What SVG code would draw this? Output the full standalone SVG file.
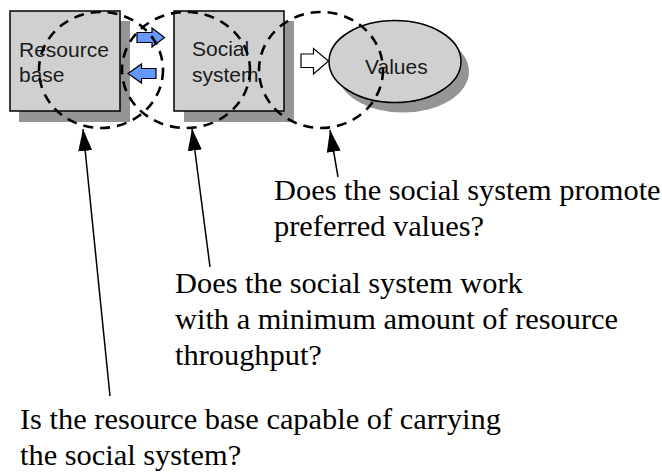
<svg xmlns="http://www.w3.org/2000/svg" width="662" height="473" viewBox="0 0 662 473">
  <style>
    .box { fill: #D0D0D0; stroke: #000; stroke-width: 1.5; }
    .shadow { fill: #959595; stroke: none; }
    .lbl { font-family: "Liberation Sans", Arial, sans-serif; font-size: 21px; fill: #1a1a1a; }
    .q { font-family: "Liberation Serif", "Times New Roman", serif; font-size: 30.4px; fill: #000; }
    .ptr { fill: none; stroke: #000; stroke-width: 1.5; }
    .blue { fill: #6699FF; stroke: #000; stroke-width: 1.2; stroke-linejoin: miter; }
    .white { fill: #fff; stroke: #000; stroke-width: 1.2; }
    .dash { fill: none; stroke: #000; stroke-width: 2.6; stroke-dasharray: 10 7; }
  </style>
  <defs>
    <marker id="head" markerUnits="userSpaceOnUse" markerWidth="22" markerHeight="14" refX="22" refY="7" orient="auto">
      <path d="M0,0 L22,7 L0,14 z" fill="#000"/>
    </marker>
  </defs>
  <rect width="662" height="473" fill="#fff"/>

  <g id="resource-base">
    <rect class="shadow" x="19" y="21" width="111" height="101"/>
    <rect class="box" x="10" y="11" width="110" height="100"/>
    <text class="lbl" x="19" y="57">Resource</text>
    <text class="lbl" x="19" y="82">base</text>
  </g>

  <g id="social-system">
    <rect class="shadow" x="184" y="21" width="110" height="101"/>
    <rect class="box" x="174" y="11" width="110" height="100"/>
    <text class="lbl" x="192" y="56">Social</text>
    <text class="lbl" x="192" y="82">system</text>
  </g>

  <g id="values">
    <ellipse class="shadow" cx="403" cy="71.5" rx="66" ry="41"/>
    <ellipse class="box" cx="395" cy="61.5" rx="66" ry="41"/>
    <text class="lbl" x="365" y="74">Values</text>
  </g>

  <g id="connectors">
    <path class="blue" d="M137,32.5 L152,32.5 L152,28 L164.5,37.5 L152,47 L152,42.5 L137,42.5 z"/>
    <path class="blue" d="M156,68.5 L141.5,68.5 L141.5,64 L128,73.5 L141.5,83 L141.5,78.5 L156,78.5 z"/>
    <path class="white" d="M301,54 L313.5,54 L313.5,48.5 L328.5,61 L313.5,74 L313.5,67.5 L301,67.5 z"/>
    <line class="ptr" x1="338" y1="177" x2="330" y2="130" marker-end="url(#head)"/>
    <line class="ptr" x1="210" y1="267" x2="192" y2="128.5" marker-end="url(#head)"/>
    <line class="ptr" x1="110" y1="396" x2="83" y2="129" marker-end="url(#head)"/>
  </g>

  <g id="focus-areas">
    <ellipse class="dash" cx="101" cy="70" rx="62" ry="58"/>
    <ellipse class="dash" cx="186" cy="70" rx="64" ry="58"/>
    <ellipse class="dash" cx="321" cy="70" rx="62" ry="58"/>
  </g>

  <g id="q-values">
    <text class="q" x="274" y="200">Does the social system promote</text>
    <text class="q" x="274" y="236">preferred values?</text>
  </g>
  <g id="q-throughput">
    <text class="q" x="175" y="293">Does the social system work</text>
    <text class="q" x="175" y="329">with a minimum amount of resource</text>
    <text class="q" x="175" y="365">throughput?</text>
  </g>
  <g id="q-carrying">
    <text class="q" x="20" y="429">Is the resource base capable of carrying</text>
    <text class="q" x="20" y="465">the social system?</text>
  </g>
</svg>
